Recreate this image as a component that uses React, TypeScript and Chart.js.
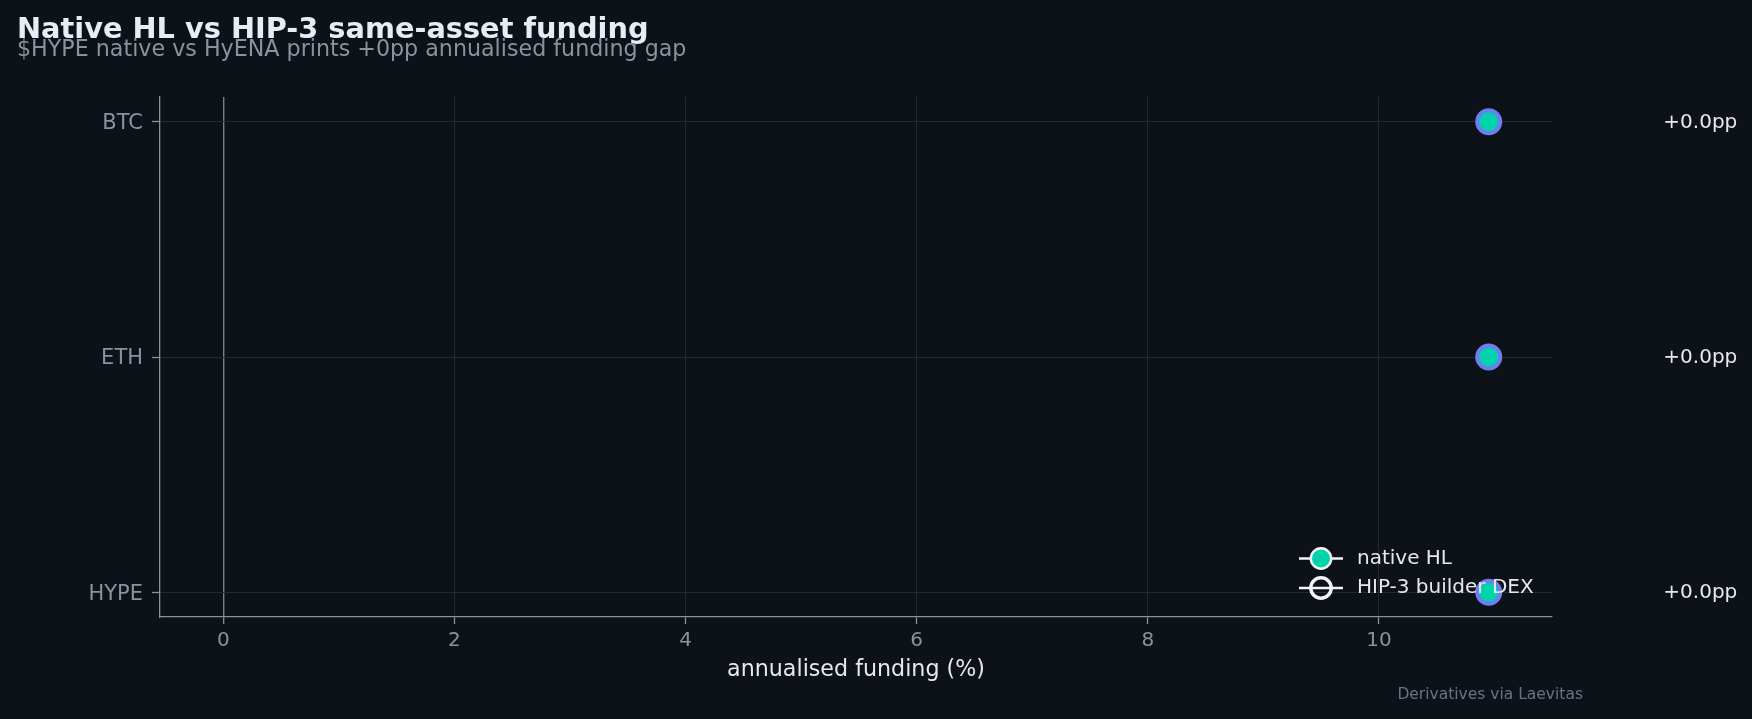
import { useEffect, useRef } from "react";
import { Chart, registerables } from "chart.js";

Chart.register(...registerables);

// data
const assets = ["BTC", "ETH", "HYPE"];
const nativeFunding = [10.95, 10.95, 10.95];
const hip3Funding = [10.95, 10.95, 10.95];
const xTicks = [0, 2, 4, 6, 8, 10];

const BG = "#0d1118";
const TEAL = "#00d4ac";
const BLUE = "#6a80ec";
const GRID = "#252932";
const SPINE = "#8b919b";
const MUTED = "#8b929e";
const LIGHT = "#e6e8ee";
const FONT = "'DejaVu Sans', sans-serif";

const W = 1752;
const H = 719;

// x limits like matplotlib's 5% margin around the data (0 line included)
const allX = [0, ...nativeFunding, ...hip3Funding];
const xLo = Math.min(...allX);
const xHi = Math.max(...allX);
const xPad = (xHi - xLo) * 0.05;

const decorPlugin = {
  id: "decor",
  beforeDraw(chart: any) {
    const { ctx } = chart;
    ctx.save();
    ctx.fillStyle = BG;
    ctx.fillRect(0, 0, chart.width, chart.height);
    ctx.restore();
  },
  beforeDatasetsDraw(chart: any) {
    // dumbbell connectors
    const { ctx, scales } = chart;
    ctx.save();
    ctx.strokeStyle = "#4b5563";
    ctx.lineWidth = 2;
    assets.forEach((_, i) => {
      const y = scales.y.getPixelForValue(i);
      ctx.beginPath();
      ctx.moveTo(scales.x.getPixelForValue(nativeFunding[i]), y);
      ctx.lineTo(scales.x.getPixelForValue(hip3Funding[i]), y);
      ctx.stroke();
    });
    ctx.restore();
  },
  afterDraw(chart: any) {
    const { ctx, chartArea, scales } = chart;
    ctx.save();

    // title + subtitle
    ctx.textAlign = "left";
    ctx.textBaseline = "alphabetic";
    ctx.fillStyle = "#e8ecf4";
    ctx.font = `bold 28.8px ${FONT}`;
    ctx.fillText("Native HL vs HIP-3 same-asset funding", 17, 38);
    ctx.fillStyle = MUTED;
    ctx.font = `22.2px ${FONT}`;
    ctx.fillText("$HYPE native vs HyENA prints +0pp annualised funding gap", 17, 56);

    // gap labels to the right of the axes
    ctx.fillStyle = LIGHT;
    ctx.font = `20px ${FONT}`;
    ctx.textBaseline = "middle";
    const gx = chartArea.left + 1.08 * (chartArea.right - chartArea.left);
    assets.forEach((_, i) => {
      const gap = hip3Funding[i] - nativeFunding[i];
      const txt = `${gap >= 0 ? "+" : ""}${gap.toFixed(1)}pp`;
      ctx.fillText(txt, gx, scales.y.getPixelForValue(i) + 1);
    });

    // x axis label
    ctx.textAlign = "center";
    ctx.font = `22.2px ${FONT}`;
    ctx.fillText("annualised funding (%)", (chartArea.left + chartArea.right) / 2, 670);

    // legend
    const rows = [
      { label: "native HL", y: 558.5, fill: TEAL },
      { label: "HIP-3 builder DEX", y: 588, fill: null },
    ];
    rows.forEach((r) => {
      ctx.strokeStyle = "#f2f3f6";
      ctx.lineWidth = 2.4;
      ctx.beginPath();
      ctx.moveTo(1299, r.y);
      ctx.lineTo(1343, r.y);
      ctx.stroke();
      ctx.beginPath();
      ctx.arc(1321, r.y, 10.2, 0, Math.PI * 2);
      if (r.fill) {
        ctx.fillStyle = r.fill;
        ctx.fill();
        ctx.lineWidth = 2.4;
      } else {
        ctx.lineWidth = 3.4;
      }
      ctx.strokeStyle = "#f2f3f6";
      ctx.stroke();
      ctx.fillStyle = LIGHT;
      ctx.textAlign = "left";
      ctx.font = `20px ${FONT}`;
      ctx.fillText(r.label, 1357, r.y);
    });

    // source note
    ctx.textAlign = "right";
    ctx.fillStyle = "#6b7280";
    ctx.font = `15.5px ${FONT}`;
    ctx.fillText("Derivatives via Laevitas", 1583, 695);

    ctx.restore();
  },
};

export default function App() {
  const chartRef = useRef<HTMLCanvasElement>(null);
  const chartInstance = useRef<Chart | null>(null);

  useEffect(() => {
    if (!chartRef.current) return;
    document.body.style.margin = "0";
    document.body.style.background = BG;

    if (chartInstance.current) {
      chartInstance.current.destroy();
    }

    chartInstance.current = new Chart(chartRef.current, {
      type: "scatter",
      data: {
        datasets: [
          {
            label: "native HL",
            data: assets.map((_, i) => ({ x: nativeFunding[i], y: i })),
            backgroundColor: TEAL,
            borderWidth: 0,
            pointRadius: 9.3,
            pointHoverRadius: 9.3,
            order: 0,
          },
          {
            label: "HIP-3 builder DEX",
            data: assets.map((_, i) => ({ x: hip3Funding[i], y: i })),
            backgroundColor: BLUE,
            borderWidth: 0,
            pointRadius: 13.5,
            pointHoverRadius: 13.5,
            order: 1,
          },
        ],
      },
      options: {
        responsive: false,
        animation: false,
        events: [],
        layout: { padding: { top: 97, right: 200, bottom: 0, left: 0 } },
        plugins: {
          legend: { display: false },
          tooltip: { enabled: false },
        },
        scales: {
          x: {
            type: "linear",
            min: xLo - xPad,
            max: xHi + xPad,
            afterFit: (s: any) => {
              s.height = H - 617;
            },
            afterBuildTicks: (s: any) => {
              s.ticks = xTicks.map((v) => ({ value: v }));
            },
            ticks: {
              color: MUTED,
              font: { family: FONT, size: 20 },
              padding: 5,
              maxRotation: 0,
            },
            grid: {
              color: (c: any) => (c.tick && c.tick.value === 0 ? "#7a808a" : GRID),
              lineWidth: (c: any) => (c.tick && c.tick.value === 0 ? 1.4 : 1),
              tickColor: SPINE,
              tickLength: 7,
              tickWidth: 1.3,
            },
            border: { color: SPINE, width: 1.3 },
          },
          y: {
            type: "linear",
            reverse: true,
            min: -0.105,
            max: 2.105,
            afterFit: (s: any) => {
              s.width = 160;
            },
            afterBuildTicks: (s: any) => {
              s.ticks = assets.map((_, i) => ({ value: i }));
            },
            ticks: {
              color: MUTED,
              font: { family: FONT, size: 21 },
              padding: 9,
              labelOffset: 2,
              callback: (v: any) => assets[v] ?? "",
            },
            grid: {
              color: GRID,
              lineWidth: 1,
              tickColor: SPINE,
              tickLength: 8,
              tickWidth: 1.3,
            },
            border: { color: SPINE, width: 1.3 },
          },
        },
      },
      plugins: [decorPlugin],
    });

    return () => {
      if (chartInstance.current) {
        chartInstance.current.destroy();
        chartInstance.current = null;
      }
    };
  }, []);

  return (
    <div style={{ position: "absolute", left: 0, top: 0, width: W, height: H, background: BG }}>
      <canvas ref={chartRef} width={W} height={H}></canvas>
    </div>
  );
}
